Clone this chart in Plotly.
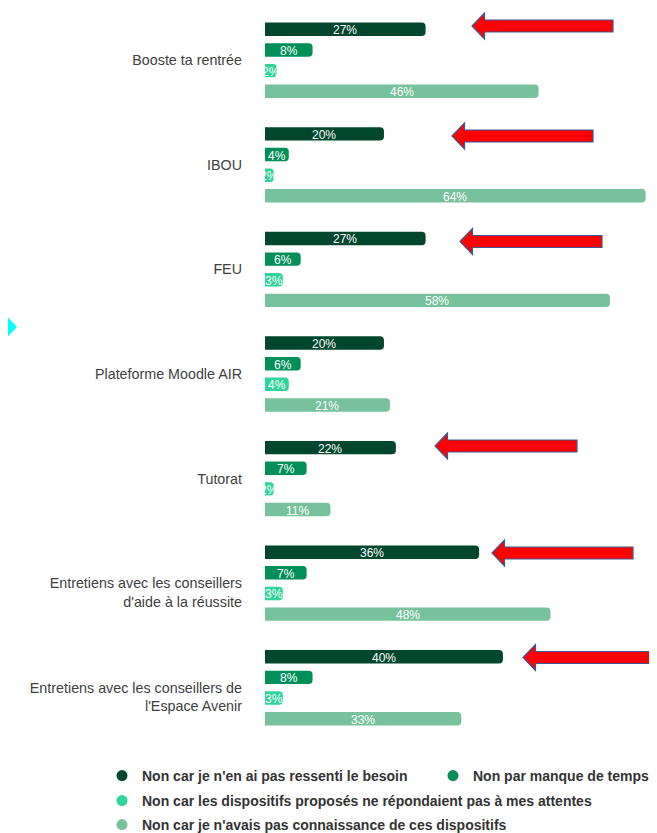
import plotly.graph_objects as go

# ---------------- data ----------------
categories = [
    "Booste ta rentrée",
    "IBOU",
    "FEU",
    "Plateforme Moodle AIR",
    "Tutorat",
    "Entretiens avec les conseillers<br>d'aide à la réussite",
    "Entretiens avec les conseillers de<br>l'Espace Avenir",
]
series_names = [
    "Non car je n'en ai pas ressenti le besoin",
    "Non par manque de temps",
    "Non car les dispositifs proposés ne répondaient pas à mes attentes",
    "Non car je n'avais pas connaissance de ces dispositifs",
]
besoin = [27, 20, 27, 20, 22, 36, 40]
temps = [8, 4, 6, 6, 7, 7, 8]
attentes = [2, 1.5, 3, 4, 1.5, 3, 3]
connaissance = [46, 64, 58, 21, 11, 48, 33]
series_values = [besoin, temps, attentes, connaissance]

colors = ["#00472D", "#008F58", "#2ED49A", "#77C29C"]

# ---------------- layout geometry (pixels) ----------------
# the page body adds an 8px offset, so the figure is drawn 8px smaller
OFF = 8
W, H = 657 - OFF, 833 - OFF
ML, MR, MT, MB = 257, 3, 0, 93
PW, PH = W - ML - MR, H - MT - MB
BARGAP, GROUPGAP = 0.21, 0.35


def px(x):
    """screen x of the reference -> paper x"""
    return (x - OFF - ML) / PW


def py(y):
    """screen y of the reference -> paper y"""
    return 1 - (y - OFF - MT) / PH


fig = go.Figure()

for name, vals, col in zip(series_names, series_values, colors):
    fig.add_trace(go.Bar(
        y=categories, x=vals, orientation="h", name=name,
        marker=dict(color=col, line=dict(width=0)),
        showlegend=False, hoverinfo="skip",
    ))

# value labels centred on each bar (annotations in data coordinates)
band = PH / len(categories)
slot = band * (1 - BARGAP) / len(series_values)
annotations = []
for i, vals in enumerate(series_values):
    offset = (i - (len(series_values) - 1) / 2) * slot
    for cat, v in zip(categories, vals):
        annotations.append(dict(
            x=v / 2, y=cat, xref="x", yref="y", text="%.0f%%" % v,
            showarrow=False, yshift=-offset - 1,
            font=dict(color="white", size=12, family="Liberation Sans"),
        ))

# legend entries (circle markers), one legend per entry for exact placement
legend_ids = ["legend", "legend2", "legend3", "legend4"]
for name, col, lg in zip(series_names, colors, legend_ids):
    fig.add_trace(go.Scatter(
        x=[None], y=[None], mode="markers", name="<b>%s</b>" % name,
        marker=dict(color=col, size=11, symbol="circle"),
        legend=lg, showlegend=True, hoverinfo="skip",
    ))

# red arrows (tip_x, tail_x, center_y) in reference screen pixels
arrows = [(472, 613, 26), (452, 593, 136), (460, 602, 241.5),
          (435, 577, 446), (492, 633, 553), (523, 665, 657.5)]
shapes = []
for tip, tail, cy in arrows:
    hb = tip + 12.5
    pts = [(tip, cy), (hb, cy - 13), (hb, cy - 6), (tail, cy - 6),
           (tail, cy + 6), (hb, cy + 6), (hb, cy + 13)]
    path = "M " + " L ".join("%f,%f" % (px(a), py(b)) for a, b in pts) + " Z"
    shapes.append(dict(type="path", xref="paper", yref="paper", path=path,
                       fillcolor="#FF0000", line=dict(color="#3A5A96", width=1.2)))

# cyan decoration at the left edge (mostly outside the page)
dpts = [(-17, 327), (0, 309), (17, 327), (0, 345)]
dpath = "M " + " L ".join("%f,%f" % (px(a), py(b)) for a, b in dpts) + " Z"
shapes.append(dict(type="path", xref="paper", yref="paper", path=dpath,
                   fillcolor="#00FFFF", line=dict(width=0)))

# tick texts: two-line labels sit slightly below their group centre
ticktext = ["<br>" + c if "<br>" in c else c for c in categories]

legend_font = dict(family="Liberation Sans", color="#333333", size=14)


def legend_at(xpix, ypix):
    return dict(orientation="h", xref="container", yref="container",
                x=(xpix - OFF) / W, xanchor="left",
                y=1 - (ypix - OFF) / H, yanchor="middle",
                font=legend_font, itemclick=False, itemdoubleclick=False,
                bgcolor="rgba(0,0,0,0)")


fig.update_layout(
    width=W, height=H,
    margin=dict(l=ML, r=MR, t=MT, b=MB, autoexpand=False),
    paper_bgcolor="white", plot_bgcolor="white",
    barmode="group", bargap=BARGAP, bargroupgap=GROUPGAP, barcornerradius=4,
    xaxis=dict(range=[0, 65.4], visible=False, fixedrange=True),
    yaxis=dict(autorange="reversed", showgrid=False, showline=False,
               zeroline=False, ticks="", ticklabelstandoff=22, automargin=False,
               tickmode="array", tickvals=categories, ticktext=ticktext,
               tickfont=dict(family="Liberation Sans", size=14.3, color="#404040")),
    font=dict(family="Liberation Sans"),
    legend=legend_at(102, 776),
    legend2=legend_at(433, 776),
    legend3=legend_at(102, 801),
    legend4=legend_at(102, 825),
    shapes=shapes,
    annotations=annotations,
)

fig.write_html("out.html")
